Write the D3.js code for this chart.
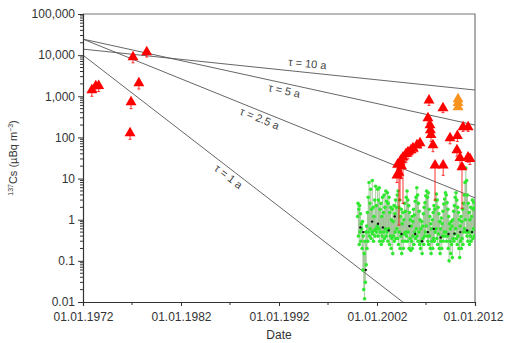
<!DOCTYPE html>
<html>
<head>
<meta charset="utf-8">
<script src="https://cdn.jsdelivr.net/npm/d3@7"></script>
<style>
  body { margin: 0; background: #fff; }
  svg { font-family: "Liberation Sans", Arial, sans-serif; }
</style>
</head>
<body>
<svg id="chart"></svg>
<script>
// axis ticks
const xTickYears = [1972, 1982, 1992, 2002, 2012]
const xMinorYears = [1977, 1987, 1997, 2007]
const yTickValues = [0.01, 0.1, 1, 10, 100, 1000, 10000, 100000]

// decay reference lines: value at 01.01.1972 and at 01.01.2012
const decayLabels = ['τ = 10 a', 'τ = 5 a', 'τ = 2.5 a', 'τ = 1 a']
const decayStart = [14000, 24500, 24500, 10000]
const decayEnd = [1420, 200, 3.4, 0.00044]
const decayLabelYear = [1994.8, 1992.7, 1990.3, 1987.3]

// early red measurements (decimal year, value, lower, upper)
const earlyYears = [1972.9, 1973.3, 1973.6, 1976.8, 1976.9, 1977.1, 1977.7, 1978.5]
const earlyValues = [1420, 1780, 1800, 128, 726, 9000, 2100, 11900]
const earlyLow = [1000, 1300, 1300, 90, 500, 6500, 1500, 9000]
const earlyHigh = [1900, 2300, 2300, 170, 950, 11500, 2700, 15000]

// recent red measurements
const lateYears = [2004.04, 2004.1, 2004.24, 2004.35, 2004.45, 2004.5, 2004.65, 2004.96, 2005.16, 2005.47,
  2005.67, 2006.08, 2006.39, 2007.2, 2007.31, 2007.41, 2007.45, 2007.51, 2007.71, 2007.92,
  2008.73, 2008.75, 2009.45, 2010.16, 2010.2, 2010.47, 2010.67, 2010.78, 2011.29, 2011.3, 2011.49]
const lateValues = [12, 22, 14, 25, 28, 20, 33, 40, 44, 49,
  55, 65, 73, 297, 800, 200, 151, 115, 65, 21,
  520, 21, 97, 49, 110, 32, 19, 179, 33, 179, 30]
const lateLow = [8, 16, 0.74, 3, 20, 10, 2.5, 25, 30, 35,
  40, 45, 55, 220, 600, 150, 110, 80, 45, 3,
  400, 12, 70, 35, 80, 20, 1.9, 140, 25, 140, 22]
const lateHigh = [16, 28, 18, 32, 36, 26, 42, 50, 55, 60,
  68, 80, 90, 360, 1000, 250, 190, 150, 80, 26,
  640, 26, 120, 60, 140, 40, 25, 220, 40, 220, 38]

// orange measurements
const orangeYears = [2010.27, 2010.27, 2010.27]
const orangeValues = [860, 690, 550]

// green series, two samples per month from 01.01.2000
const greenStartYear = 2000
const greenPerYear = 24
const greenValues = [
  1.2, 2.5, 0.4, 1.8, 0.25, 2.2, 0.5, 1.4, 0.3, 0.8, 0.6, 0.2, 0.9, 0.06, 0.4, 0.02, 0.15, 0.012, 0.3, 0.03, 0.5, 0.08, 0.7, 0.2,
  1.5, 0.3, 3.5, 0.5, 8.0, 0.4, 2.5, 0.6, 5.5, 0.35, 1.8, 0.5, 9.0, 0.45, 2.0, 0.3, 1.2, 0.55, 3.0, 0.4, 6.5, 0.6, 2.2, 0.5,
  0.7, 5.5, 0.4, 3.0, 0.6, 6.0, 0.3, 1.8, 0.5, 2.5, 0.25, 1.2, 0.4, 3.5, 0.3, 1.5, 0.5, 4.0, 0.35, 2.0, 0.6, 5.0, 0.4, 2.8,
  0.5, 4.5, 0.3, 2.5, 0.6, 3.5, 0.25, 1.5, 0.4, 2.0, 0.2, 1.0, 0.35, 1.8, 0.15, 0.9, 0.4, 2.2, 0.3, 1.4, 0.5, 3.0, 0.35, 2.0,
  0.6, 4.0, 0.35, 5.0, 0.25, 2.0, 0.5, 3.0, 0.2, 1.2, 0.4, 1.8, 0.15, 0.8, 0.3, 1.5, 0.2, 1.0, 0.45, 2.5, 0.3, 1.6, 0.5, 3.5,
  0.4, 5.0, 0.3, 3.0, 0.5, 2.2, 0.2, 1.5, 0.35, 1.0, 0.18, 0.7, 0.3, 1.2, 0.2, 0.9, 0.4, 1.8, 0.25, 1.3, 0.5, 2.8, 0.35, 3.5,
  0.6, 6.0, 0.4, 4.0, 0.3, 2.5, 0.5, 1.6, 0.25, 1.0, 0.2, 0.6, 0.3, 0.9, 0.15, 0.7, 0.35, 1.4, 0.25, 2.0, 0.4, 2.6, 0.5, 3.8,
  0.7, 5.0, 0.4, 3.5, 0.3, 4.5, 0.25, 1.8, 0.4, 1.2, 0.2, 0.8, 0.15, 0.6, 0.3, 1.0, 0.2, 1.5, 0.35, 2.2, 0.3, 1.8, 0.5, 3.0,
  0.6, 4.2, 0.35, 3.0, 0.25, 2.0, 0.45, 1.4, 0.2, 0.9, 0.15, 0.6, 0.3, 1.1, 0.2, 0.8, 0.4, 1.6, 0.3, 2.4, 0.5, 3.2, 0.4, 4.5,
  0.5, 4.0, 0.3, 2.6, 0.4, 1.8, 0.2, 1.2, 0.1, 0.8, 0.3, 0.6, 0.15, 0.9, 0.25, 0.7, 0.12, 1.0, 0.35, 1.6, 0.3, 2.2, 0.45, 3.5,
  0.6, 4.5, 0.35, 3.0, 0.25, 2.0, 0.4, 1.5, 0.2, 1.0, 0.12, 0.7, 0.3, 1.2, 0.2, 0.9, 0.35, 1.8, 0.25, 2.5, 0.5, 4.0, 0.6, 8.0,
  1.0, 18.0, 0.5, 9.0, 0.4, 4.0, 0.3, 2.5, 0.5, 1.5, 0.25, 1.0, 0.4, 2.0, 0.3, 1.2, 0.5, 3.0, 0.35, 1.8, 0.6, 2.6, 0.4, 2.0
]

// black average points inside the green band
const blackYears = [2000.3, 2000.6, 2000.85, 2001.5, 2002.1, 2002.6, 2003.2, 2003.8, 2004.5, 2005.3,
  2005.9, 2006.6, 2007.2, 2007.8, 2008.5, 2009.3, 2009.9, 2010.5, 2011.2, 2011.7]
const blackValues = [0.65, 0.5, 0.06, 0.9, 0.8, 0.65, 0.55, 1.2, 0.45, 0.7,
  0.45, 0.3, 0.5, 0.6, 0.37, 0.45, 0.46, 0.5, 0.55, 0.5]

const width = 505
const height = 343
const margin = { top: 14, right: 30, bottom: 41, left: 83 }

const toDate = y => {
  const yr = Math.floor(y)
  const a = new Date(yr, 0, 1).getTime()
  const b = new Date(yr + 1, 0, 1).getTime()
  return new Date(a + (y - yr) * (b - a))
}

const svg = d3.select('#chart')
  .attr('width', width)
  .attr('height', height)

const x = d3.scaleTime()
  .domain([new Date(1972, 0, 1), new Date(2012, 0, 1)])
  .range([margin.left, width - margin.right])

const y = d3.scaleLog()
  .domain([0.01, 100000])
  .range([height - margin.bottom, margin.top])

svg.append('defs').append('clipPath').attr('id', 'plot')
  .append('rect')
  .attr('x', margin.left).attr('y', margin.top)
  .attr('width', width - margin.left - margin.right)
  .attr('height', height - margin.top - margin.bottom)

// frame (top and right)
svg.append('path')
  .attr('d', `M${margin.left},${margin.top}H${width - margin.right}V${height - margin.bottom}`)
  .attr('fill', 'none')
  .attr('stroke', '#777')
  .attr('stroke-width', 1.2)

const plot = svg.append('g').attr('clip-path', 'url(#plot)')

// decay lines
decayLabels.forEach((lab, i) => {
  plot.append('line')
    .attr('x1', x(new Date(1972, 0, 1))).attr('y1', y(decayStart[i]))
    .attr('x2', x(new Date(2012, 0, 1))).attr('y2', y(decayEnd[i]))
    .attr('stroke', '#555')
    .attr('stroke-width', 0.9)
})

// green series
const green = greenValues.map((v, i) => ({
  date: toDate(greenStartYear + (i + 0.5) / greenPerYear),
  value: v
}))

plot.append('path')
  .datum(green)
  .attr('fill', 'none')
  .attr('stroke', '#5f9a4c')
  .attr('stroke-width', 0.5)
  .attr('stroke-opacity', 0.6)
  .attr('d', d3.line().x(d => x(d.date)).y(d => y(d.value)))

plot.selectAll('.green')
  .data(green)
  .join('circle')
  .attr('class', 'green')
  .attr('cx', d => x(d.date))
  .attr('cy', d => y(d.value))
  .attr('r', 1.8)
  .attr('fill', '#2fe82f')

plot.selectAll('.black')
  .data(blackYears.map((yr, i) => ({ date: toDate(yr), value: blackValues[i] })))
  .join('circle')
  .attr('class', 'black')
  .attr('cx', d => x(d.date))
  .attr('cy', d => y(d.value))
  .attr('r', 1.2)
  .attr('fill', '#111')

// triangles with error bars
const drawTriangles = (years, values, low, high, color) => {
  const data = years.map((yr, i) => ({
    date: toDate(yr), value: values[i],
    lo: low ? low[i] : values[i], hi: high ? high[i] : values[i]
  }))
  const g = plot.append('g')
  g.selectAll('.err')
    .data(data)
    .join('path')
    .attr('d', d => {
      const cx = x(d.date)
      return `M${cx},${y(d.lo)}V${y(d.hi)}M${cx - 1.5},${y(d.lo)}h3`
    })
    .attr('stroke', color)
    .attr('stroke-width', 0.8)
    .attr('fill', 'none')
  g.selectAll('.tri')
    .data(data)
    .join('path')
    .attr('transform', d => `translate(${x(d.date)},${y(d.value)})`)
    .attr('d', d3.symbol(d3.symbolTriangle, 52))
    .attr('fill', color)
}

drawTriangles(earlyYears, earlyValues, earlyLow, earlyHigh, '#f00')
drawTriangles(lateYears, lateValues, lateLow, lateHigh, '#f00')
drawTriangles(orangeYears, orangeValues, null, null, '#f7931e')

// decay line labels
decayLabels.forEach((lab, i) => {
  const x0 = x(new Date(1972, 0, 1)), y0 = y(decayStart[i])
  const x1 = x(new Date(2012, 0, 1)), y1 = y(decayEnd[i])
  const ang = Math.atan2(y1 - y0, x1 - x0) * 180 / Math.PI
  const lx = x(toDate(decayLabelYear[i]))
  const ly = y0 + (y1 - y0) * (lx - x0) / (x1 - x0)
  const shift = i === 0 ? -5 : 11
  svg.append('text')
    .attr('transform', `translate(${lx},${ly}) rotate(${ang})`)
    .attr('y', shift)
    .attr('text-anchor', 'middle')
    .attr('font-size', 11)
    .attr('fill', '#444')
    .text(lab)
})

// axes
const xAxis = d3.axisBottom(x)
  .tickValues(xTickYears.map(yr => new Date(yr, 0, 1)))
  .tickFormat(d3.timeFormat('%d.%m.%Y'))
  .tickSize(4)
  .tickPadding(6)

const gx = svg.append('g')
  .attr('transform', `translate(0,${height - margin.bottom})`)
  .call(xAxis)

gx.selectAll('.tick')
  .filter(d => d.getFullYear() === 2012)
  .select('text')
  .attr('dx', -2)

gx.selectAll('.minor')
  .data(xMinorYears)
  .join('line')
  .attr('class', 'minor')
  .attr('x1', d => x(new Date(d, 0, 1)))
  .attr('x2', d => x(new Date(d, 0, 1)))
  .attr('y1', 0).attr('y2', 3)
  .attr('stroke', '#333')

const yAxis = d3.axisLeft(y)
  .tickValues(yTickValues)
  .tickFormat(d3.format(','))
  .tickSize(5)
  .tickPadding(3)

const gy = svg.append('g')
  .attr('transform', `translate(${margin.left},0)`)
  .call(yAxis)

const yMinor = []
yTickValues.slice(0, -1).forEach(base => {
  for (let k = 2; k <= 9; k++) yMinor.push(base * k)
})
gy.selectAll('.minor')
  .data(yMinor)
  .join('line')
  .attr('class', 'minor')
  .attr('x1', -3).attr('x2', 0)
  .attr('y1', d => y(d)).attr('y2', d => y(d))
  .attr('stroke', '#333')

;[gx, gy].forEach(g => {
  g.select('.domain').attr('stroke', '#333').attr('stroke-width', 1.2)
  g.selectAll('.tick line').attr('stroke', '#333')
  g.selectAll('.tick text')
    .attr('font-size', 12)
    .attr('fill', '#333')
    .attr('font-family', '"Liberation Sans", Arial, sans-serif')
})

// axis titles
svg.append('text')
  .attr('x', (margin.left + width - margin.right) / 2)
  .attr('y', 339)
  .attr('text-anchor', 'middle')
  .attr('font-size', 12)
  .attr('fill', '#333')
  .text('Date')

const yt = svg.append('text')
  .attr('transform', `translate(17,${(margin.top + height - margin.bottom) / 2}) rotate(-90)`)
  .attr('text-anchor', 'middle')
  .attr('font-size', 11)
  .attr('fill', '#333')
yt.append('tspan').attr('font-size', 7).attr('dy', -4).text('137')
yt.append('tspan').attr('dy', 4).text('Cs (µBq m')
yt.append('tspan').attr('font-size', 7).attr('dy', -4).text('−3')
yt.append('tspan').attr('dy', 4).text(')')
</script>
</body>
</html>
